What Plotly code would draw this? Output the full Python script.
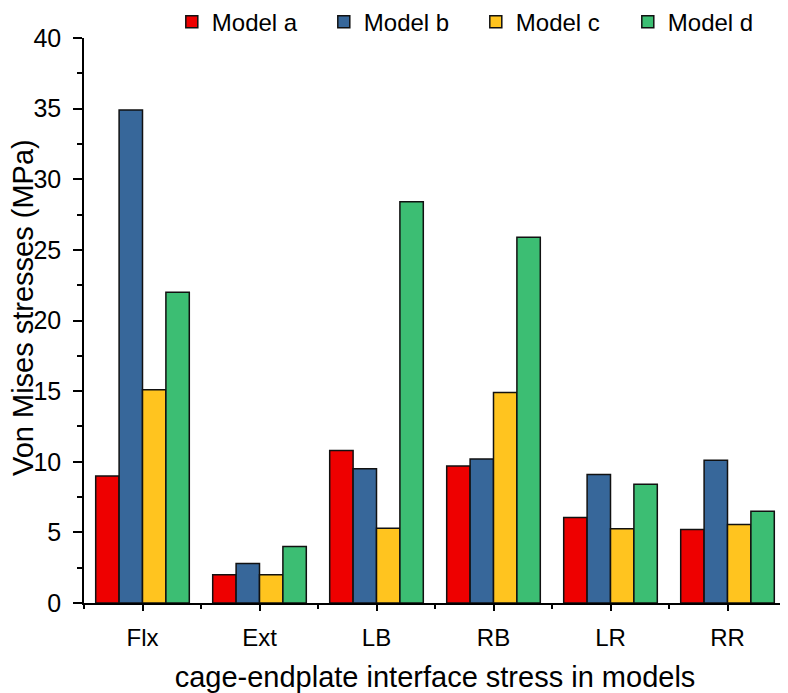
import plotly.graph_objects as go
import numpy as np

categories = ["Flx", "Ext", "LB", "RB", "LR", "RR"]
model_a = [9.0, 2.0, 10.8, 9.7, 6.05, 5.2]
model_b = [34.9, 2.8, 9.5, 10.2, 9.1, 10.1]
model_c = [15.1, 2.0, 5.3, 14.9, 5.25, 5.55]
model_d = [22.0, 4.0, 28.4, 25.9, 8.4, 6.5]
series_names = ["Model a", "Model b", "Model c", "Model d"]
series_colors = ["#EE0000", "#37679A", "#FFC41F", "#3CBE73"]
y_ticks = [0, 5, 10, 15, 20, 25, 30, 35, 40]

FONT = "Liberation Sans, Arial, sans-serif"
xpos = np.arange(len(categories))

fig = go.Figure()
for name, vals, col in zip(series_names, [model_a, model_b, model_c, model_d], series_colors):
    fig.add_trace(go.Bar(
        x=xpos, y=vals, name=name,
        marker=dict(color=col, line=dict(color="#111111", width=1.5)),
    ))

# page body has an 8px default margin, so the figure is 780x685
fig.update_layout(
    width=780, height=685,
    margin=dict(l=76, r=2, t=30, b=90, autoexpand=False),
    paper_bgcolor="white", plot_bgcolor="white",
    barmode="group", bargap=0.2, bargroupgap=0,
    font=dict(family=FONT, color="black"),
    showlegend=True,
    legend=dict(orientation="h", x=0.21, xanchor="left", xref="container",
                y=1.068, yanchor="top", yref="paper",
                font=dict(size=24, family=FONT), bgcolor="rgba(0,0,0,0)",
                itemwidth=30, entrywidth=107, tracegroupgap=0),
    xaxis=dict(
        range=[-0.5, len(categories) - 0.5],
        tickmode="array", tickvals=xpos, ticktext=categories,
        ticks="outside", ticklen=6, tickwidth=1.5, tickcolor="black",
        minor=dict(tick0=0.5, dtick=1, ticks="outside", ticklen=4, tickwidth=1.5, tickcolor="black"),
        showline=True, linecolor="black", linewidth=1.5,
        showgrid=False, zeroline=False, automargin=False,
        tickfont=dict(size=24, family=FONT), ticklabelstandoff=6,
        title=dict(text="cage-endplate interface stress in models", font=dict(size=29, family=FONT), standoff=17),
    ),
    yaxis=dict(
        range=[0, 40],
        tickmode="array", tickvals=y_ticks,
        ticks="outside", ticklen=9, tickwidth=1.5, tickcolor="black",
        minor=dict(dtick=2.5, ticks="outside", ticklen=5, tickwidth=1.5, tickcolor="black"),
        showline=True, linecolor="black", linewidth=1.5,
        showgrid=False, zeroline=False, automargin=False,
        tickfont=dict(size=25, family=FONT), ticklabelstandoff=7,
    ),
    annotations=[dict(
        text="Von Mises stresses (MPa)", textangle=-90,
        xref="paper", yref="paper", x=0, y=0.522, xanchor="center", yanchor="middle",
        xshift=-61, showarrow=False, font=dict(size=29, family=FONT),
    )],
)

fig.write_html("out.html")
